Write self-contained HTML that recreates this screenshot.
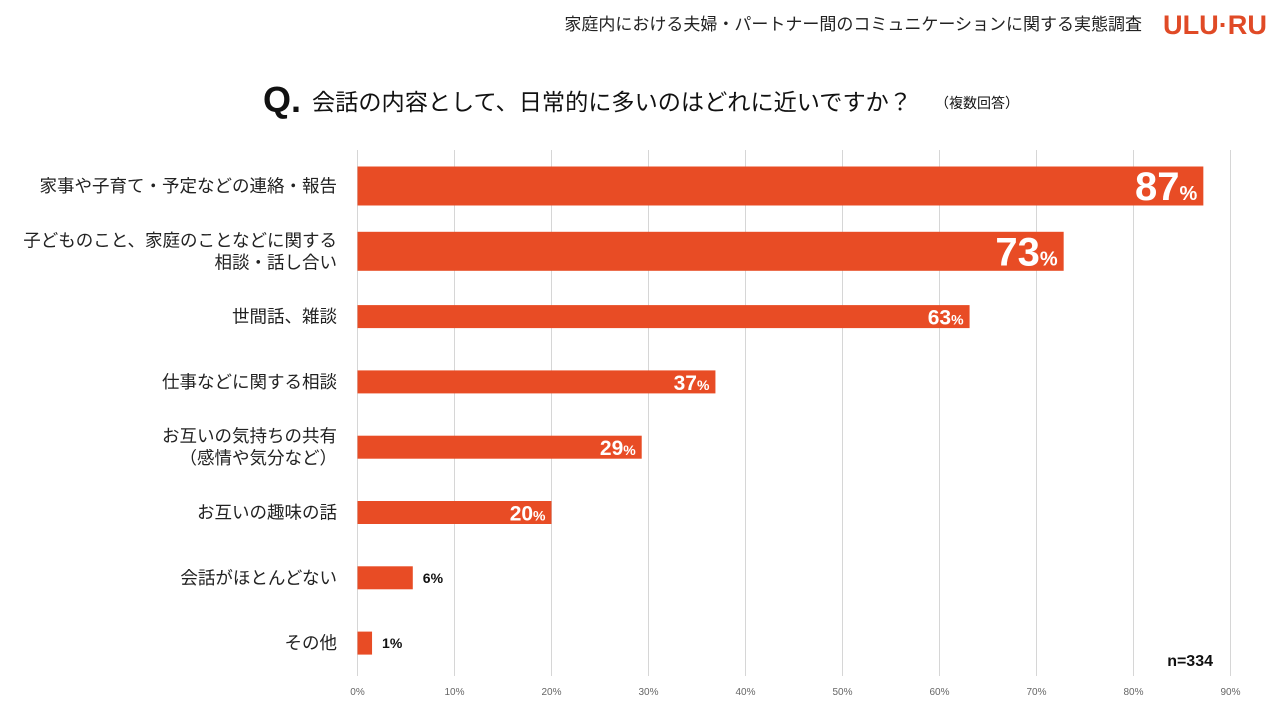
<!DOCTYPE html>
<html><head><meta charset="utf-8">
<style>
body{margin:0;background:#fff;width:1280px;height:720px;overflow:hidden;font-family:"Liberation Sans","Noto Sans CJK JP",sans-serif;}
svg text{font-family:"Liberation Sans","Noto Sans CJK JP",sans-serif;}
</style></head><body>
<svg id="chart" width="1280" height="720" xmlns="http://www.w3.org/2000/svg">
<text x="1142" y="30" font-size="17" text-anchor="end" fill="#222">家庭内における夫婦・パートナー間のコミュニケーションに関する実態調査</text>
<text x="1163" y="34" font-size="27" font-weight="bold" fill="#e04a26" textLength="104" lengthAdjust="spacingAndGlyphs">ULU·RU</text>
<text x="263" y="112" font-size="36" font-weight="bold" fill="#111">Q.</text>
<text x="312" y="110" font-size="23" fill="#111" textLength="600" lengthAdjust="spacingAndGlyphs">会話の内容として、日常的に多いのはどれに近いですか？</text>
<text x="935" y="108" font-size="14" fill="#111">（複数回答）</text>
<g id="grid"></g><g id="bars"></g><g id="labels"></g>
<text x="1213" y="666" font-size="16" font-weight="bold" text-anchor="end" fill="#111">n=334</text>
</svg>
<script>
const categories=[["家事や子育て・予定などの連絡・報告"],["子どものこと、家庭のことなどに関する","相談・話し合い"],["世間話、雑談"],["仕事などに関する相談"],["お互いの気持ちの共有","（感情や気分など）"],["お互いの趣味の話"],["会話がほとんどない"],["その他"]];
const values=[87.2,72.8,63.1,36.9,29.3,20.0,5.7,1.5];
const valueLabels=["87","73","63","37","29","20","6","1"];
const ticks=[0,10,20,30,40,50,60,70,80,90];
const NS="http://www.w3.org/2000/svg";
const x=v=>357.5+v*9.7;
const rowY=i=>186+i*65.3;
function mk(t,a,p){const e=document.createElementNS(NS,t);for(const k in a)e.setAttribute(k,a[k]);p.appendChild(e);return e;}
const grid=document.getElementById('grid'),bars=document.getElementById('bars'),labels=document.getElementById('labels');
ticks.forEach(t=>{
  const l=mk('line',{x1:x(t),x2:x(t),y1:150,y2:676,stroke:'#d6d6d6','stroke-width':1},grid);
  
  
  const tx=mk('text',{x:x(t),y:695,'font-size':10,fill:'#666','text-anchor':'middle'},grid);
  tx.textContent=t+'%';
  
  
});
values.forEach((v,i)=>{
  const big=i<2, h=big?39:23, cy=rowY(i);
  const r=mk('rect',{x:x(0),y:cy-h/2,width:x(v)-x(0),height:h,fill:'#e84c25'},bars);
  
  
  const inside=v>15;
  const t=mk('text',{'font-weight':'bold'},labels);
  
  
  if(inside){
    t.setAttribute('x',x(v)-6);t.setAttribute('text-anchor','end');t.setAttribute('fill','#fff');
    t.setAttribute('y',cy+(big?14:8));
    const fs=big?40:21;
    t.innerHTML='<tspan font-size="'+fs+'">'+valueLabels[i]+'</tspan><tspan font-size="'+(big?20:14)+'">%</tspan>';
  }else{
    t.setAttribute('x',x(v)+10);t.setAttribute('fill','#111');t.setAttribute('y',cy+5);t.setAttribute('font-size',14);
    t.textContent=valueLabels[i]+'%';
  }
  const lines=categories[i];
  lines.forEach((s,j)=>{
    const c=mk('text',{x:337,y:cy+6+(j-(lines.length-1)/2)*22,'font-size':17.5,fill:'#222','text-anchor':'end'},labels);
    c.textContent=s;
    
    
  });
});
</script>
</body></html>
